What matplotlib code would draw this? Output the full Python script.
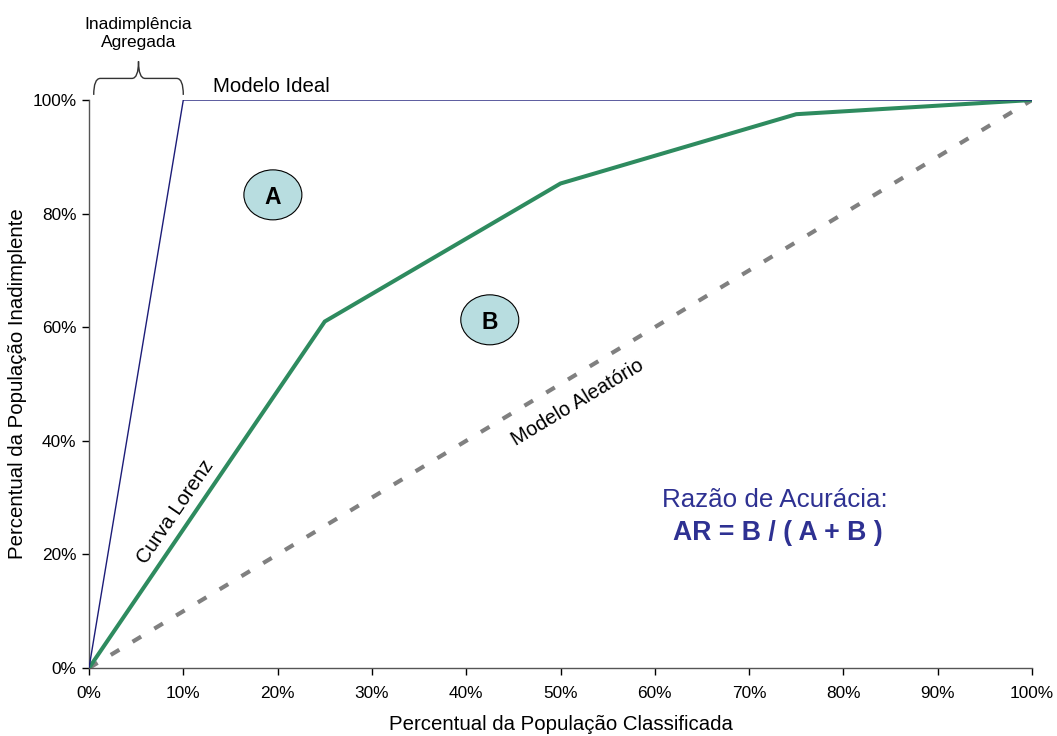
import matplotlib
matplotlib.use('Agg')
import matplotlib.pyplot as plt
from matplotlib.patches import Ellipse, PathPatch
from matplotlib.path import Path
from matplotlib.ticker import PercentFormatter

# data
ideal_x = [0.0, 0.10, 1.0]
ideal_y = [0.0, 1.0, 1.0]
lorenz_x = [0.0, 0.25, 0.50, 0.75, 1.0]
lorenz_y = [0.0, 0.61, 0.853, 0.975, 1.0]
random_x = [0.0, 1.0]
random_y = [0.0, 1.0]
ticks = [i / 10 for i in range(11)]
yticks = [i / 5 for i in range(6)]

plt.rcParams['font.family'] = ['Liberation Sans', 'DejaVu Sans']

fig = plt.figure(figsize=(10.57, 7.36), dpi=100)
ax = fig.add_axes([89 / 1057, 1 - 668 / 736, 943 / 1057, 568 / 736])

ax.plot(random_x, random_y, color='#808080', lw=3, ls=(0, (2.4, 3.7)), zorder=2)
ax.plot(lorenz_x, lorenz_y, color='#2e8b5f', lw=2.9, zorder=3, solid_joinstyle='miter')
ax.plot(ideal_x, ideal_y, color='#1c1c78', lw=1.0, zorder=4)

ax.set_xlim(0, 1)
ax.set_ylim(0, 1)
ax.set_xticks(ticks)
ax.set_yticks(yticks)
ax.xaxis.set_major_formatter(PercentFormatter(1.0, decimals=0))
ax.yaxis.set_major_formatter(PercentFormatter(1.0, decimals=0))
ax.tick_params(direction='out', length=5, width=1, labelsize=12.4, pad=4, colors='black')
ax.tick_params(axis='x', pad=8)
for s in ['top', 'right']:
    ax.spines[s].set_visible(False)
for s in ['left', 'bottom']:
    ax.spines[s].set_color('#555555')
    ax.spines[s].set_linewidth(1)

ax.set_xlabel('Percentual da População Classificada', fontsize=14.7, labelpad=10)
ax.set_ylabel('Percentual da População Inadimplente', fontsize=14.7)
ax.yaxis.set_label_coords(-0.066, 0.5)

# A and B ellipses
for cx, cy, lab in [(0.195, 0.833, 'A'), (0.425, 0.613, 'B')]:
    ax.add_patch(Ellipse((cx, cy), 0.0615, 0.088, facecolor='#b8dde0',
                         edgecolor='black', lw=0.8, zorder=5))
    ax.text(cx, cy - 0.005, lab, ha='center', va='center', fontsize=16.5,
            fontweight='bold', zorder=6)

ax.text(0.193, 1.024, 'Modelo Ideal', ha='center', va='center', fontsize=14.7,
        clip_on=False)
ax.text(0.092, 0.275, 'Curva Lorenz', ha='center', va='center', fontsize=14.5,
        rotation=55.7, rotation_mode='anchor')
ax.text(0.518, 0.467, 'Modelo Aleatório', ha='center', va='center', fontsize=14.5,
        rotation=31, rotation_mode='anchor')

ax.text(0.727, 0.295, 'Razão de Acurácia:', ha='center', va='center',
        fontsize=18.7, color='#2e3192')
ax.text(0.730, 0.237, 'AR = B / ( A + B )', ha='center', va='center',
        fontsize=19.2, color='#2e3192', fontweight='bold')

# brace over aggregated default
x0, x1, xm = 0.005, 0.1, 0.0525
yb, yh, yt = 1.009, 1.038, 1.068
verts = [(x0, yb), (x0, yh), (x0 + 0.007, yh),
         (xm - 0.007, yh), (xm, yh), (xm, yt),
         (xm, yh), (xm + 0.007, yh),
         (x1 - 0.007, yh), (x1, yh), (x1, yb)]
codes = [Path.MOVETO, Path.CURVE3, Path.CURVE3,
         Path.LINETO, Path.CURVE3, Path.CURVE3,
         Path.CURVE3, Path.CURVE3,
         Path.LINETO, Path.CURVE3, Path.CURVE3]
ax.add_patch(PathPatch(Path(verts, codes), facecolor='none', edgecolor='#333333',
                       lw=1, clip_on=False))
ax.text(xm, 1.117, 'Inadimplência\nAgregada', ha='center', va='center',
        fontsize=12.5, linespacing=1.25, clip_on=False)

fig.savefig('out.png', dpi=100)
